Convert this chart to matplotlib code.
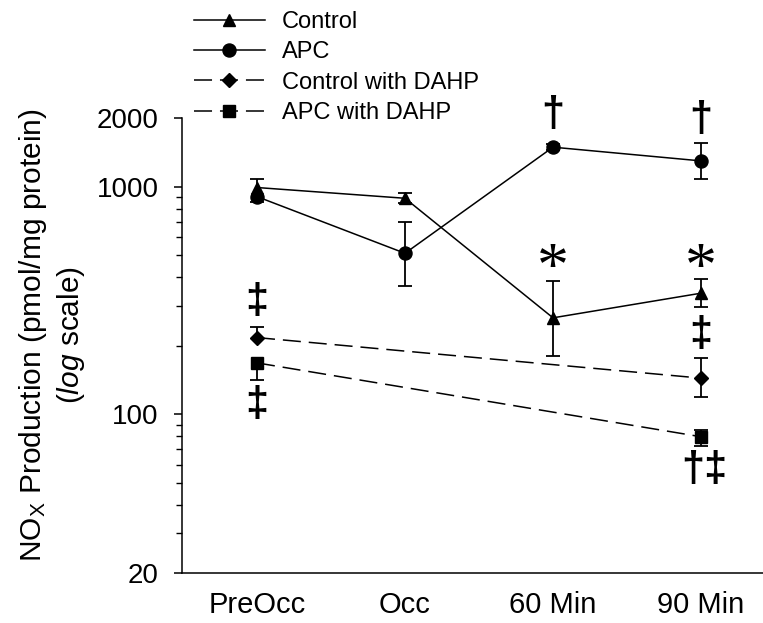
import numpy as np
import matplotlib
matplotlib.use("Agg")
import matplotlib.pyplot as plt
from matplotlib.ticker import FixedLocator, NullFormatter

plt.rcParams['font.family'] = ['Liberation Sans', 'DejaVu Sans']
plt.rcParams['mathtext.fontset'] = 'custom'
plt.rcParams['mathtext.rm'] = 'Liberation Sans'
plt.rcParams['mathtext.it'] = 'Liberation Sans:italic'

categories = ['PreOcc', 'Occ', '60 Min', '90 Min']

# Control
ctrl_x = [0, 1, 2, 3]
ctrl_y = [990, 888, 265, 340]
ctrl_lo = [np.nan, 845, 181, 295]
ctrl_hi = [1077, 935, 385, 391]

# APC
apc_x = [0, 1, 2, 3]
apc_y = [903, 509, 1489, 1296]
apc_lo = [853, 366, 1450, 1077]
apc_hi = [np.nan, 701, 1535, 1550]

# Control with DAHP
cd_x = [0, 3]
cd_y = [217, 144]
cd_lo = [np.nan, 119]
cd_hi = [242, 176]

# APC with DAHP
ad_x = [0, 3]
ad_y = [168, 79.6]
ad_lo = [141, 72.5]
ad_hi = [np.nan, 85.2]

# significance marks (x, y, text)
marks = [(2, 2054, '†'), (3, 1962, '†'),
         (2, 458, '*'), (3, 458, '*'),
         (0, 311, '‡'), (0, 110, '‡'), (3, 223, '‡'), (3.02, 57, '†‡')]


def draw_series(ax, x, y, lo, hi, marker, ms, dashed, label):
    ls = (0, (11.8, 5.2)) if dashed else '-'
    ax.plot(x, y, color='black', lw=1.1, linestyle=ls, marker=marker,
            markersize=ms, label=label, zorder=3)
    for xi, yi, l, h in zip(x, y, lo, hi):
        for end in (l, h):
            if not np.isnan(end):
                ax.vlines(xi, min(end, yi), max(end, yi), color='black',
                          lw=1.3, zorder=2)
                ax.plot(xi, end, marker='_', ms=10, mew=1.3, color='black',
                        zorder=2)


fig = plt.figure(figsize=(7.63, 6.23), dpi=100)
ax = fig.add_axes([182 / 763, 1 - 573.3 / 623, 581 / 763, 455.3 / 623])

draw_series(ax, ctrl_x, ctrl_y, ctrl_lo, ctrl_hi, '^', 8.6, False, 'Control')
draw_series(ax, apc_x, apc_y, apc_lo, apc_hi, 'o', 9.4, False, 'APC')
draw_series(ax, cd_x, cd_y, cd_lo, cd_hi, 'D', 7.4, True, 'Control with DAHP')
draw_series(ax, ad_x, ad_y, ad_lo, ad_hi, 's', 8, True, 'APC with DAHP')

for xm, ym, t in marks:
    if t == '*':
        ax.text(xm, ym, t, ha='center', va='center_baseline', fontsize=46,
                family=['Liberation Serif'], clip_on=False)
    else:
        ax.text(xm, ym, t, ha='center', va='center', fontsize=30,
                fontweight='bold', clip_on=False)

ax.set_yscale('log')
ax.set_ylim(20, 2000)
ax.set_xlim(-75 / 148, 3 + 62 / 148)
ax.yaxis.set_major_locator(FixedLocator([20, 100, 1000, 2000]))
ax.set_yticklabels(['20', '100', '1000', '2000'])
ax.yaxis.set_minor_locator(FixedLocator([30, 40, 50, 60, 70, 80, 90,
                                         200, 300, 400, 500, 600, 700, 800, 900]))
ax.yaxis.set_minor_formatter(NullFormatter())
ax.tick_params(axis='y', which='major', length=6, width=1.1, labelsize=20, pad=11)
ax.tick_params(axis='y', which='minor', length=4, width=1.0)
ax.set_xticks(range(len(categories)))
ax.set_xticklabels(categories)
ax.tick_params(axis='x', length=0, labelsize=21, pad=13)

for s in ['top', 'right']:
    ax.spines[s].set_visible(False)
for s in ['left', 'bottom']:
    ax.spines[s].set_linewidth(1.1)

ax.set_ylabel('NO$_\\mathrm{X}$ Production (pmol/mg protein)\n($\\mathit{log}$ scale)',
              fontsize=21.5, linespacing=1.25)
ax.yaxis.set_label_coords(-0.163, 0.523)

fig.legend(loc='upper left', bbox_to_anchor=(194 / 763, 0.982), frameon=False,
           fontsize=17, handlelength=3.0, handletextpad=0.72, labelspacing=0.35,
           borderaxespad=0, borderpad=0)

fig.savefig('out.png', dpi=100)
